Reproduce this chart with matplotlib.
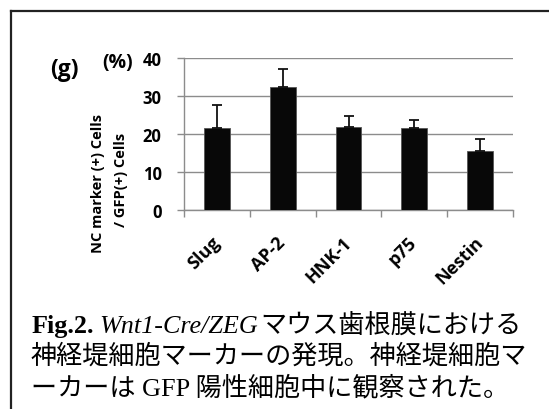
import matplotlib
matplotlib.use("Agg")
import matplotlib.pyplot as plt
from matplotlib.lines import Line2D
import numpy as np

# data
markers = ["Slug", "AP-2", "HNK-1", "p75", "Nestin"]
percent = [21.7, 32.4, 21.8, 21.7, 15.6]
err_up = [6.0, 4.9, 3.0, 2.1, 3.2]
yticks = [0, 10, 20, 30, 40]

W, H = 549, 410
fig = plt.figure(figsize=(W / 100, H / 100), dpi=100)

def fx(x):
    return x / W

def fy(y):
    return 1 - y / H

sans = "Open Sans"

# outer frame (left + top edges visible)
fig.add_artist(Line2D([fx(10.5), fx(10.5)], [fy(11.5), fy(420)], color="#222222", lw=1.6))
fig.add_artist(Line2D([fx(10.5), fx(560)], [fy(11.5), fy(11.5)], color="#222222", lw=1.6))

ax = fig.add_axes([fx(184), fy(211), fx(513) - fx(184), fy(59.3) - fy(211)])
x = np.arange(len(markers))
ax.bar(x, percent, width=0.39, color="#080808", edgecolor="#555555", linewidth=0.6, zorder=3)
ax.errorbar(x, percent, yerr=[np.zeros(len(err_up)), err_up], fmt="none",
            ecolor="#111111", elinewidth=1.3, capsize=3.5, capthick=1.3, zorder=4)

ax.set_xlim(-0.5, len(markers) - 0.5)
ax.set_ylim(0, 40)
ax.set_yticks(yticks)
ax.set_yticklabels([str(v) for v in yticks], fontsize=12, fontweight="bold", family=sans)
ax.yaxis.grid(True, color="#8c8c8c", linewidth=1.0, zorder=0)
ax.tick_params(axis="y", length=5, width=1.0, color="#8c8c8c", pad=11)

ax.set_xticks(np.arange(len(markers) + 1) - 0.5)
ax.set_xticklabels([])
ax.set_xticks(x, minor=True)
ax.set_xticklabels(markers, minor=True, rotation=45, ha="right", va="center",
                   rotation_mode="anchor", fontsize=13, fontweight="bold", family=sans)
ax.tick_params(axis="x", which="major", length=5, width=1.0, color="#8c8c8c")
ax.tick_params(axis="x", which="minor", length=0, pad=21)

for side in ["top", "right"]:
    ax.spines[side].set_visible(False)
for side in ["left", "bottom"]:
    ax.spines[side].set_color("#8c8c8c")
    ax.spines[side].set_linewidth(1.0)

# labels around the axes
fig.text(fx(64), fy(70), "(g)", fontsize=16.5, fontweight="bold", family=sans, ha="center", va="center")
fig.text(fx(117.5), fy(63), "(%)", fontsize=14, fontweight="bold", family=sans, ha="center", va="center")
fig.text(fx(98.5), fy(184), "NC marker (+) Cells", rotation=90, fontsize=10.5,
         fontweight="bold", family=sans, ha="center", va="center")
fig.text(fx(120.5), fy(180), "/ GFP(+) Cells", rotation=90, fontsize=10.5,
         fontweight="bold", family=sans, ha="center", va="center")

# caption
cap_fam = ["Liberation Serif", "Noto Sans CJK JP"]
cap_size = 18.8
renderer = fig.canvas.get_renderer()

def put(xpx, ypx, s, **kw):
    t = fig.text(fx(xpx), fy(ypx), s, fontsize=cap_size, va="baseline", **kw)
    bb = t.get_window_extent(renderer)
    return bb.x1

x1 = put(32, 333, "Fig.2.", family=cap_fam, fontweight="bold")
x1 = put(x1 + 5, 333, "Wnt1-Cre/ZEG", family=cap_fam, fontstyle="italic")
put(x1 + 2, 333, "マウス歯根膜における", family=cap_fam)
put(31, 364, "神経堤細胞マーカーの発現。神経堤細胞マ", family=cap_fam)
put(31, 395, "ーカーは GFP 陽性細胞中に観察された。", family=cap_fam)

fig.savefig("out.png", dpi=100)
